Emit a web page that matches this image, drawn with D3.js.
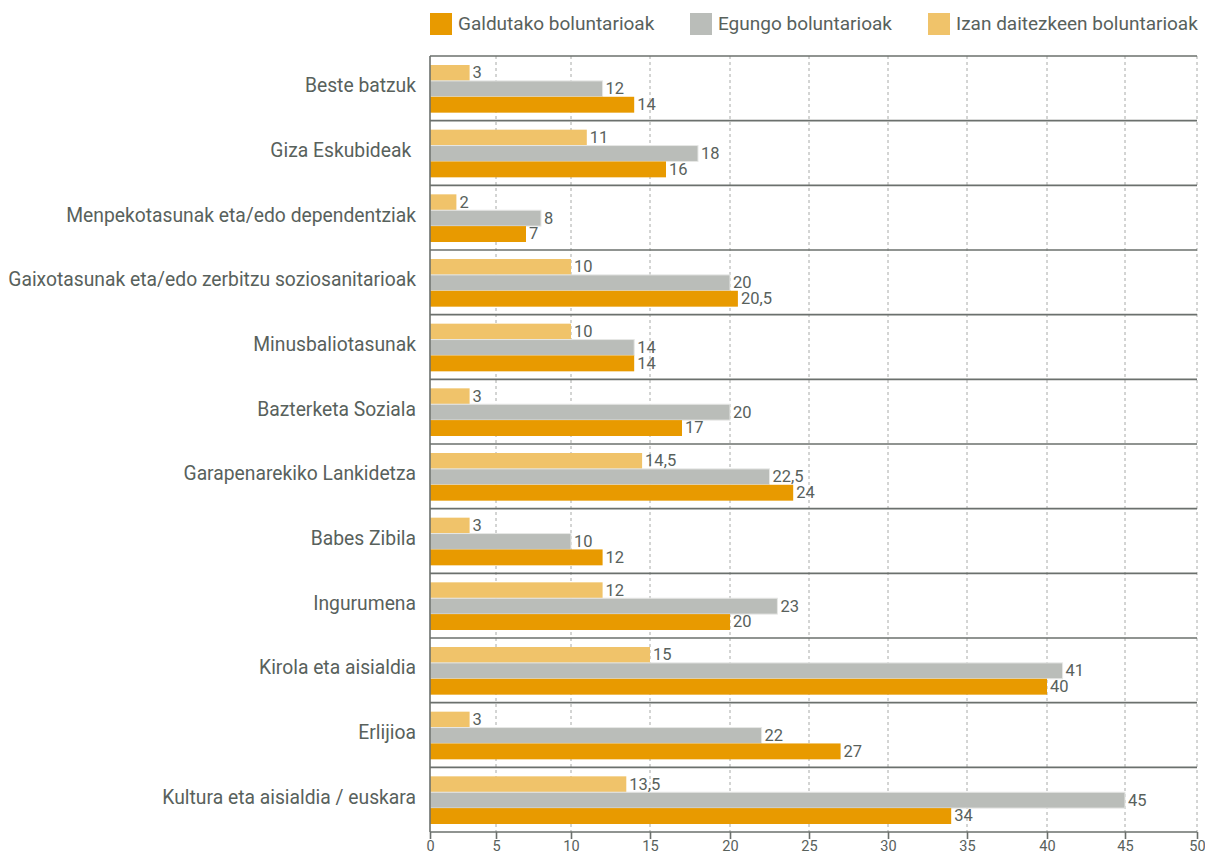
<!DOCTYPE html>
<html>
<head>
<meta charset="utf-8">
<script src="https://cdn.jsdelivr.net/npm/d3@7"></script>
<style>
  html, body { margin: 0; padding: 0; background: #fff; }
  svg { display: block; }
  text { font-family: Roboto, "Noto Sans", sans-serif; }
</style>
</head>
<body>
<svg id="chart" width="1205" height="854"></svg>
<script>
// Volunteer categories, top to bottom
const categories = [
  "Beste batzuk",
  "Giza Eskubideak ",
  "Menpekotasunak eta/edo dependentziak",
  "Gaixotasunak eta/edo zerbitzu soziosanitarioak",
  "Minusbaliotasunak",
  "Bazterketa Soziala",
  "Garapenarekiko Lankidetza",
  "Babes Zibila",
  "Ingurumena",
  "Kirola eta aisialdia",
  "Erlijioa",
  "Kultura eta aisialdia / euskara"
];

const seriesNames = ["Galdutako boluntarioak", "Egungo boluntarioak", "Izan daitezkeen boluntarioak"];

const galdutako    = [14, 16, 7, 20.5, 14, 17, 24, 12, 20, 40, 27, 34];
const egungo       = [12, 18, 8, 20, 14, 20, 22.5, 10, 23, 41, 22, 45];
const izanDaitezke = [3, 11, 2, 10, 10, 3, 14.5, 3, 12, 15, 3, 13.5];

const xTicks = [0, 5, 10, 15, 20, 25, 30, 35, 40, 45, 50];

const colors = {
  "Galdutako boluntarioak": "#e89a00",
  "Egungo boluntarioak": "#babdb9",
  "Izan daitezkeen boluntarioak": "#f0c36a"
};

// bars within a band are drawn top-down: potential, current, lost
const barOrder = ["Izan daitezkeen boluntarioak", "Egungo boluntarioak", "Galdutako boluntarioak"];
const valuesBySeries = {
  "Galdutako boluntarioak": galdutako,
  "Egungo boluntarioak": egungo,
  "Izan daitezkeen boluntarioak": izanDaitezke
};

const rows = categories.map((c, i) => ({
  category: c,
  bars: barOrder.map(s => ({ series: s, value: valuesBySeries[s][i] }))
}));

const svg = d3.select("#chart");
const margin = { top: 56, right: 8, bottom: 22, left: 430 };
const W = 1205, H = 854;
const innerW = W - margin.left - margin.right;
const innerH = H - margin.top - margin.bottom;

const textColor = "#58615c";
const lineColor = "#6b706d";

// the value axis is drawn with slightly uneven tick spacing, so the scale is piecewise through each tick
const tickPixels = [0, 66, 141, 220, 300, 379, 458, 537, 617, 695, 767];
const x = d3.scaleLinear().domain(xTicks).range(tickPixels);
const y = d3.scaleBand().domain(categories).range([0, innerH]).paddingInner(0).paddingOuter(0);
const yInner = d3.scaleBand().domain(barOrder).range([9, y.bandwidth() - 8]).padding(0);

const g = svg.append("g").attr("transform", `translate(${margin.left},${margin.top})`);

// dashed vertical grid
g.append("g")
  .selectAll("line")
  .data(xTicks.filter(t => t > 0))
  .join("line")
  .attr("x1", d => x(d)).attr("x2", d => x(d))
  .attr("y1", 0).attr("y2", innerH)
  .attr("stroke", "#a8aaa8")
  .attr("stroke-width", 1)
  .attr("stroke-dasharray", "3,3");

// bars
const groups = g.append("g")
  .selectAll("g")
  .data(rows)
  .join("g")
  .attr("transform", d => `translate(0,${y(d.category)})`);

groups.selectAll("rect")
  .data(d => d.bars)
  .join("rect")
  .attr("x", 0)
  .attr("y", d => yInner(d.series))
  .attr("width", d => x(d.value))
  .attr("height", yInner.bandwidth())
  .attr("fill", d => colors[d.series])
  .attr("stroke", d => d.series === "Egungo boluntarioak" ? "#e6e7e5" : "none")
  .attr("stroke-width", 1);

const fmt = v => String(v).replace(".", ",");

groups.selectAll("text.val")
  .data(d => d.bars)
  .join("text")
  .attr("class", "val")
  .attr("x", d => x(d.value) + 3)
  .attr("y", d => yInner(d.series) + yInner.bandwidth() / 2 + 1)
  .attr("dominant-baseline", "middle")
  .attr("font-size", 16.5)
  .attr("fill", textColor)
  .text(d => fmt(d.value));

// horizontal separators between categories
g.append("g")
  .selectAll("line")
  .data(d3.range(categories.length + 1))
  .join("line")
  .attr("x1", 0).attr("x2", innerW)
  .attr("y1", i => i * y.step()).attr("y2", i => i * y.step())
  .attr("stroke", lineColor)
  .attr("stroke-width", 1.6);

// left axis line
g.append("line")
  .attr("x1", 0).attr("x2", 0)
  .attr("y1", 0).attr("y2", innerH)
  .attr("stroke", lineColor)
  .attr("stroke-width", 1.6);

// category labels
g.append("g")
  .selectAll("text")
  .data(categories)
  .join("text")
  .attr("x", -14)
  .attr("y", d => y(d) + y.bandwidth() / 2 - 1)
  .attr("text-anchor", "end")
  .attr("dominant-baseline", "middle")
  .attr("font-size", 19.3)
  .attr("fill", textColor)
  .attr("xml:space", "preserve")
  .style("white-space", "pre")
  .text(d => d);

// bottom axis
const xAxis = d3.axisBottom(x).tickValues(xTicks).tickSize(7).tickPadding(2).tickFormat(d3.format("d"));
const ax = g.append("g").attr("transform", `translate(0,${innerH})`).call(xAxis);
ax.select(".domain").remove();
ax.selectAll(".tick line").attr("stroke", lineColor).attr("stroke-width", 1.6);
ax.selectAll(".tick text")
  .attr("font-size", 14.5)
  .attr("fill", textColor)
  .style("font-family", "Roboto, 'Noto Sans', sans-serif");

// legend
const legendX = [430, 690, 928];
const legend = svg.append("g")
  .selectAll("g")
  .data(seriesNames)
  .join("g")
  .attr("transform", (d, i) => `translate(${legendX[i]},13)`);

legend.append("rect")
  .attr("width", 22).attr("height", 22)
  .attr("fill", d => colors[d]);

legend.append("text")
  .attr("x", 28).attr("y", 12)
  .attr("dominant-baseline", "middle")
  .attr("font-size", 19)
  .attr("fill", textColor)
  .text(d => d);
</script>
</body>
</html>
